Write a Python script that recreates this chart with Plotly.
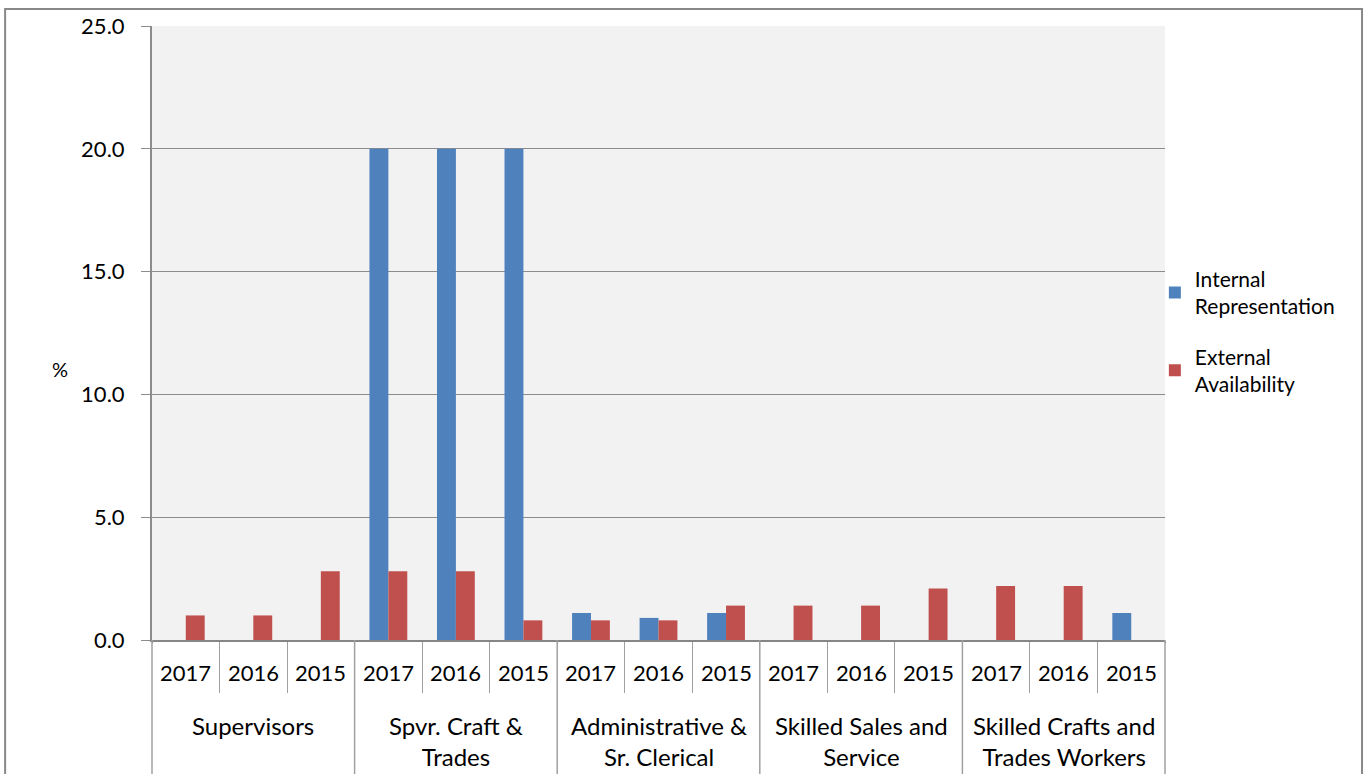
import plotly.graph_objects as go

groups = ["Supervisors", "Spvr. Craft &<br>Trades", "Administrative &<br>Sr. Clerical",
          "Skilled Sales and<br>Service", "Skilled Crafts and<br>Trades Workers"]
years = ["2017", "2016", "2015"]
internal = [0, 0, 0,
            20.0, 20.0, 20.0,
            1.1, 0.9, 1.1,
            0, 0, 0,
            0, 0, 1.1]
external = [1.0, 1.0, 2.8,
            2.8, 2.8, 0.8,
            0.8, 0.8, 1.4,
            1.4, 1.4, 2.1,
            2.2, 2.2, 0]

outer = [g for g in groups for _ in years]
inner = [y for _ in groups for y in years]
n = len(inner)

FONT = "Lato, Calibri, sans-serif"
FS = 21
fig = go.Figure()
fig.add_trace(go.Bar(x=[outer, inner], y=internal, name="Internal<br>Representation",
                     legendgroup="a", marker=dict(color="#4F81BD", line=dict(width=0))))
fig.add_trace(go.Bar(x=[outer, inner], y=external, name="External<br>Availability",
                     legendgroup="b", marker=dict(color="#C0504D", line=dict(width=0))))

fig.update_layout(
    width=1367, height=774,
    margin=dict(l=152, r=202, t=22, b=134),
    paper_bgcolor="white", plot_bgcolor="#F2F2F2",
    barmode="group", bargap=0.44, bargroupgap=0,
    font=dict(family=FONT, size=FS, color="black"),
    showlegend=True,
    legend=dict(x=0.99, y=0.502, xanchor="left", yanchor="middle", traceorder="grouped",
                font=dict(family=FONT, size=FS), itemwidth=30, tracegroupgap=20,
                bgcolor="rgba(0,0,0,0)"),
    xaxis=dict(type="multicategory", showline=True, linecolor="#868686", linewidth=2,
               ticks="outside", tickson="boundaries", ticklen=51, tickcolor="#A0A0A0",
               showticklabels=False, showgrid=False),
    yaxis=dict(range=[0, 25], dtick=5, tickformat=".1f", showgrid=True,
               gridcolor="#8C8C8C", gridwidth=1, showline=True, linecolor="#8C8C8C",
               linewidth=2, ticks="outside", ticklen=9, tickcolor="#8C8C8C",
               ticklabelstandoff=12, zeroline=False, tickfont=dict(family=FONT, size=FS + 1)),
)
# year labels
for i, yr in enumerate(inner):
    fig.add_annotation(text=yr, xref="paper", yref="paper", x=(i + 0.5) / n, y=-0.0534,
                       xanchor="center", yanchor="middle", showarrow=False,
                       font=dict(family=FONT, size=FS + 1))
# group labels and dividers
ng = len(groups)
for k, g in enumerate(groups):
    fig.add_annotation(text=g, xref="paper", yref="paper", x=(k + 0.5) / ng, y=-0.112,
                       xanchor="center", yanchor="top", showarrow=False,
                       font=dict(family=FONT, size=24))
for k in range(ng + 1):
    fig.add_shape(type="line", xref="paper", yref="paper", x0=k / ng, x1=k / ng, y0=0, y1=-0.3,
                  line=dict(color="#A0A0A0", width=1.5))
fig.add_annotation(text="%", xref="paper", yref="paper", x=-0.0908, y=0.4417,
                   xanchor="center", showarrow=False, font=dict(family=FONT, size=FS - 1))
fig.add_shape(type="rect", xref="paper", yref="paper", x0=-0.145, x1=1.1945, y0=-0.3, y1=1.0275,
              line=dict(color="#888888", width=2), fillcolor="rgba(0,0,0,0)", layer="below")
fig.write_html("out.html", config={"displayModeBar": False},
               post_script="document.body.style.margin='0';")
